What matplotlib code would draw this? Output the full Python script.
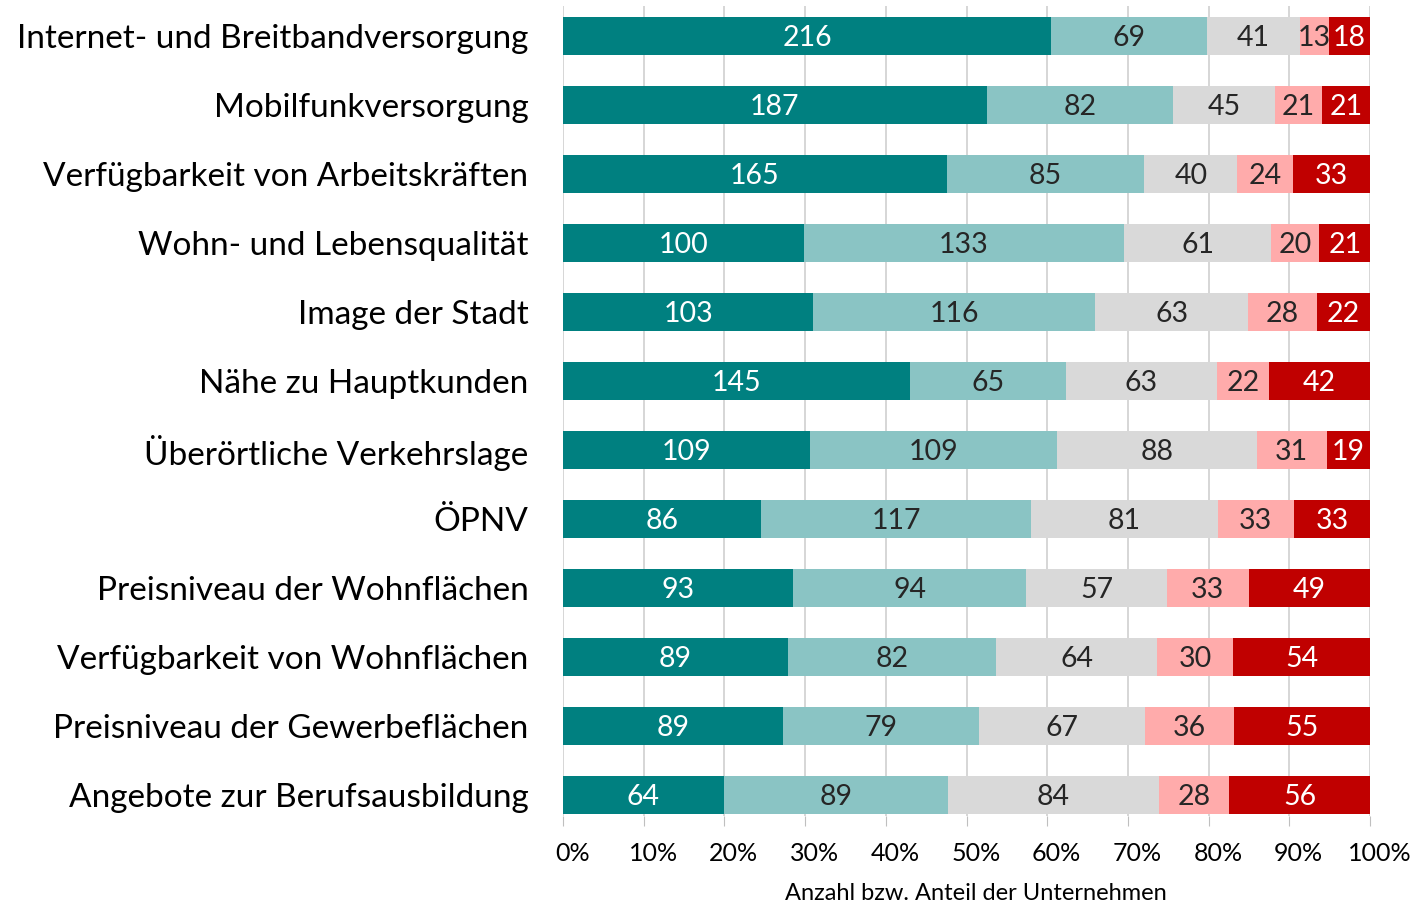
import numpy as np
import matplotlib
matplotlib.use("Agg")
import matplotlib.pyplot as plt
import matplotlib.transforms as mtransforms

plt.rcParams['font.family'] = ['Lato', 'DejaVu Sans']

categories = ['Internet- und Breitbandversorgung', 'Mobilfunkversorgung',
              'Verfügbarkeit von Arbeitskräften', 'Wohn- und Lebensqualität',
              'Image der Stadt', 'Nähe zu Hauptkunden', 'Überörtliche Verkehrslage',
              'ÖPNV', 'Preisniveau der Wohnflächen', 'Verfügbarkeit von Wohnflächen',
              'Preisniveau der Gewerbeflächen', 'Angebote zur Berufsausbildung']

sehr_gut = [216, 187, 165, 100, 103, 145, 109, 86, 93, 89, 89, 64]
gut = [69, 82, 85, 133, 116, 65, 109, 117, 94, 82, 79, 89]
mittel = [41, 45, 40, 61, 63, 63, 88, 81, 57, 64, 67, 84]
schlecht = [13, 21, 24, 20, 28, 22, 31, 33, 33, 30, 36, 28]
sehr_schlecht = [18, 21, 33, 21, 22, 42, 19, 33, 49, 54, 55, 56]

series = [sehr_gut, gut, mittel, schlecht, sehr_schlecht]
colors = ['#008080', '#8AC4C4', '#D9D9D9', '#FFABAB', '#C00000']
text_colors = ['white', '#262626', '#262626', '#262626', 'white']

data = np.array(series, dtype=float)
totals = data.sum(axis=0)
shares = data / totals * 100

fig = plt.figure(figsize=(14.1, 9.06), dpi=100)
W, H = 1410, 906
ax = fig.add_axes([563 / W, 1 - 816 / H, (1370 - 563) / W, (816 - 6) / H])

y = np.arange(len(categories))
left = np.zeros(len(categories))
for i in range(len(series)):
    ax.barh(y, shares[i], left=left, height=0.55, color=colors[i], zorder=2)
    for j in range(len(categories)):
        ax.text(left[j] + shares[i][j] / 2, y[j] + 0.03, str(int(data[i][j])),
                ha='center', va='center', fontsize=20.5, color=text_colors[i], zorder=3)
    left += shares[i]

ax.set_xlim(0, 100)
ax.set_ylim(11.304, -0.435)
ax.set_yticks(y)
ax.set_yticklabels(categories, fontsize=24)
ax.tick_params(axis='y', length=0, pad=25)
ax.set_xticks(np.arange(0, 101, 10))
ax.set_xticklabels([f'{v}%' for v in range(0, 101, 10)], fontsize=18)
ax.tick_params(axis='x', length=7, color='#BFBFBF', pad=12)
offset = mtransforms.ScaledTranslation(9.5 / 100, 0, fig.dpi_scale_trans)
for lab in ax.get_xticklabels():
    lab.set_transform(lab.get_transform() + offset)
ax.grid(axis='x', color='#D0D0D0', linewidth=1.2, zorder=0)
for s in ax.spines.values():
    s.set_visible(False)

fig.text(976 / W, 1 - 893 / H, 'Anzahl bzw. Anteil der Unternehmen',
         ha='center', va='center', fontsize=17)

fig.savefig('out.png', dpi=100)
